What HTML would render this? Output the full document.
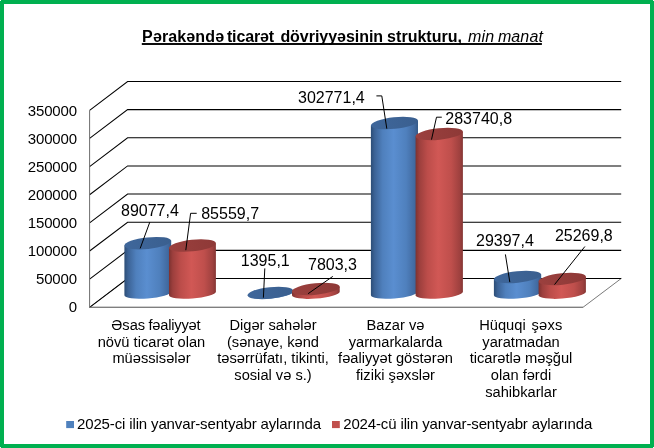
<!DOCTYPE html>
<html lang="az">
<head>
<meta charset="utf-8">
<title>Pərakəndə ticarət dövriyyəsinin strukturu</title>
<style>
html,body{margin:0;padding:0;background:#fff;}
body{width:654px;height:448px;overflow:hidden;position:relative;}
svg{position:absolute;left:0;top:0;display:block;}
text{font-family:"Liberation Sans",sans-serif;fill:#000;}
.s11{font-size:14.67px;}
.d11{font-size:15px;letter-spacing:-0.17px;}
.l11{font-size:15px;letter-spacing:-0.14px;}
.s12{font-size:16px;}
.ttl{font-size:16px;}
</style>
</head>
<body>
<svg width="654" height="448" viewBox="0 0 654 448">
<defs>
<linearGradient id="gb" x1="0" x2="1" y1="0" y2="0">
<stop offset="0" stop-color="#2c4d76"/><stop offset="0.08" stop-color="#3c6396"/><stop offset="0.25" stop-color="#4f80bd"/><stop offset="0.48" stop-color="#5a8ed0"/><stop offset="0.75" stop-color="#4f80bd"/><stop offset="0.93" stop-color="#41699f"/><stop offset="1" stop-color="#345a88"/>
</linearGradient>
<linearGradient id="gr" x1="0" x2="1" y1="0" y2="0">
<stop offset="0" stop-color="#7d3230"/><stop offset="0.08" stop-color="#9c3f3d"/><stop offset="0.25" stop-color="#bc4d4a"/><stop offset="0.48" stop-color="#d15855"/><stop offset="0.75" stop-color="#bf4f4c"/><stop offset="0.93" stop-color="#9f413f"/><stop offset="1" stop-color="#853634"/>
</linearGradient>
<linearGradient id="tb" x1="0" x2="1" y1="0" y2="0">
<stop offset="0" stop-color="#3f679b"/><stop offset="1" stop-color="#3a5f8f"/>
</linearGradient>
<linearGradient id="tr" x1="0" x2="1" y1="0" y2="0">
<stop offset="0" stop-color="#9b403e"/><stop offset="1" stop-color="#8e3937"/>
</linearGradient>
</defs>
<rect x="0" y="0" width="654" height="448" fill="#fff"/>
<polygon points="89.6,307.3 127.6,278.5 621.2,278.5 583.0,307.3" fill="#fff" stroke="#7a7a7a" stroke-width="1"/>
<polyline points="89.6,110.30 127.6,81.50 621.2,81.50" fill="none" stroke="#000" stroke-width="1.05" stroke-linejoin="miter"/>
<polyline points="89.6,138.44 127.6,109.64 621.2,109.64" fill="none" stroke="#000" stroke-width="1.05" stroke-linejoin="miter"/>
<polyline points="89.6,166.59 127.6,137.79 621.2,137.79" fill="none" stroke="#000" stroke-width="1.05" stroke-linejoin="miter"/>
<polyline points="89.6,194.73 127.6,165.93 621.2,165.93" fill="none" stroke="#000" stroke-width="1.05" stroke-linejoin="miter"/>
<polyline points="89.6,222.87 127.6,194.07 621.2,194.07" fill="none" stroke="#000" stroke-width="1.05" stroke-linejoin="miter"/>
<polyline points="89.6,251.01 127.6,222.21 621.2,222.21" fill="none" stroke="#000" stroke-width="1.05" stroke-linejoin="miter"/>
<polyline points="89.6,279.16 127.6,250.36 621.2,250.36" fill="none" stroke="#000" stroke-width="1.05" stroke-linejoin="miter"/>
<polyline points="89.6,307.30 127.6,278.50 621.2,278.50" fill="none" stroke="#000" stroke-width="1.05" stroke-linejoin="miter"/>
<line x1="89.6" y1="110.3" x2="89.6" y2="307.3" stroke="#6e6e6e" stroke-width="1"/>
<line x1="89.6" y1="307.3" x2="583.0" y2="307.3" stroke="#7a7a7a" stroke-width="1"/>
<path d="M124.40,245.48 L124.40,295.15 A23.47,5.10 -4.5 0 0 171.20,291.64 L171.20,240.86 Z" fill="url(#gb)"/>
<ellipse cx="147.80" cy="243.17" rx="23.52" ry="5.80" fill="url(#tb)" transform="rotate(-6.0 147.80 243.17)"/>
<path d="M169.00,247.89 L169.00,295.25 A23.52,5.10 -4.5 0 0 215.90,291.73 L215.90,243.26 Z" fill="url(#gr)"/>
<ellipse cx="192.45" cy="245.57" rx="23.57" ry="5.80" fill="url(#tr)" transform="rotate(-6.0 192.45 245.57)"/>
<path d="M247.50,295.19 L247.50,295.12 A22.92,5.10 -4.5 0 0 293.20,291.70 L293.20,290.70 Z" fill="url(#gb)"/>
<ellipse cx="270.35" cy="292.95" rx="22.97" ry="5.80" fill="url(#tb)" transform="rotate(-6.0 270.35 292.95)"/>
<path d="M292.00,291.35 L292.00,295.27 A23.92,5.10 -4.5 0 0 339.70,291.69 L339.70,286.63 Z" fill="url(#gr)"/>
<ellipse cx="315.85" cy="288.99" rx="23.97" ry="5.80" fill="url(#tr)" transform="rotate(-6.0 315.85 288.99)"/>
<path d="M370.90,125.40 L370.90,295.16 A23.62,5.10 -4.5 0 0 418.00,291.62 L418.00,120.75 Z" fill="url(#gb)"/>
<ellipse cx="394.45" cy="123.08" rx="23.67" ry="5.80" fill="url(#tb)" transform="rotate(-6.0 394.45 123.08)"/>
<path d="M415.60,136.32 L415.60,295.26 A23.72,5.10 -4.5 0 0 462.90,291.71 L462.90,131.64 Z" fill="url(#gr)"/>
<ellipse cx="439.25" cy="133.98" rx="23.77" ry="5.80" fill="url(#tr)" transform="rotate(-6.0 439.25 133.98)"/>
<path d="M493.90,279.32 L493.90,295.16 A23.72,5.10 -4.5 0 0 541.20,291.61 L541.20,274.64 Z" fill="url(#gb)"/>
<ellipse cx="517.55" cy="276.98" rx="23.77" ry="5.80" fill="url(#tb)" transform="rotate(-6.0 517.55 276.98)"/>
<path d="M538.60,281.32 L538.60,295.26 A23.72,5.10 -4.5 0 0 585.90,291.71 L585.90,276.64 Z" fill="url(#gr)"/>
<ellipse cx="562.25" cy="278.98" rx="23.77" ry="5.80" fill="url(#tr)" transform="rotate(-6.0 562.25 278.98)"/>
<polyline points="149.8,222.1 140.2,248.4" fill="none" stroke="#000" stroke-width="1"/>
<polyline points="196.7,213.3 190.6,213.3 185.8,250.2" fill="none" stroke="#000" stroke-width="1"/>
<polyline points="264.8,268.4 263.4,297.7" fill="none" stroke="#000" stroke-width="1"/>
<polyline points="332.8,276.4 308.1,293.7" fill="none" stroke="#000" stroke-width="1"/>
<polyline points="376.4,95.9 381.8,95.9 386.8,128.7" fill="none" stroke="#000" stroke-width="1"/>
<polyline points="441.8,117.2 436.5,117.2 431.5,139.6" fill="none" stroke="#000" stroke-width="1"/>
<polyline points="505.4,254.4 509.8,282.1" fill="none" stroke="#000" stroke-width="1"/>
<polyline points="584.9,246.5 554.5,284.6" fill="none" stroke="#000" stroke-width="1"/>
<text x="76.9" y="116" text-anchor="end" class="d11">350000</text>
<text x="76.9" y="144" text-anchor="end" class="d11">300000</text>
<text x="76.9" y="172" text-anchor="end" class="d11">250000</text>
<text x="76.9" y="200" text-anchor="end" class="d11">200000</text>
<text x="76.9" y="228" text-anchor="end" class="d11">150000</text>
<text x="76.9" y="256" text-anchor="end" class="d11">100000</text>
<text x="76.9" y="284" text-anchor="end" class="d11">50000</text>
<text x="76.9" y="312" text-anchor="end" class="d11">0</text>
<text x="121.0" y="215.6" class="s12">89077,4</text>
<text x="201.2" y="219" class="s12">85559,7</text>
<text x="240.8" y="266.0" class="s12">1395,1</text>
<text x="308.0" y="270" class="s12">7803,3</text>
<text x="298.0" y="102.7" class="s12">302771,4</text>
<text x="445.3" y="123.8" class="s12">283740,8</text>
<text x="476.0" y="246.0" class="s12">29397,4</text>
<text x="554.9" y="240.5" class="s12">25269,8</text>
<text x="151.5" y="347" text-anchor="middle" class="s11">növü ticarət olan</text>
<text x="151.5" y="363" text-anchor="middle" class="s11">müəssisələr</text>
<text x="273" y="330" text-anchor="middle" class="s11">Digər sahələr</text>
<text x="273" y="347" text-anchor="middle" class="s11">(sənaye, kənd</text>
<text x="273" y="363" text-anchor="middle" class="s11">təsərrüfatı, tikinti,</text>
<text x="273" y="380" text-anchor="middle" class="s11">sosial və s.)</text>
<text x="395.5" y="330" text-anchor="middle" class="s11">Bazar və</text>
<text x="395.5" y="347" text-anchor="middle" class="s11">yarmarkalarda</text>
<text x="395.5" y="363" text-anchor="middle" class="s11">fəaliyyət göstərən</text>
<text x="395.5" y="380" text-anchor="middle" class="s11">fiziki şəxslər</text>
<text x="521" y="347" text-anchor="middle" class="s11">yaratmadan</text>
<text x="521" y="363" text-anchor="middle" class="s11">ticarətlə məşğul</text>
<text x="521" y="380" text-anchor="middle" class="s11">olan fərdi</text>
<text x="521" y="397" text-anchor="middle" class="s11">sahibkarlar</text>
<text x="111.3" y="330" class="s11">Əsas</text>
<text x="148.4" y="330" class="s11" letter-spacing="-0.19">fəaliyyət</text>
<text x="479.2" y="330" class="s11">Hüquqi</text>
<text x="531.6" y="330" class="s11" letter-spacing="0.2">şəxs</text>
<text x="142.1" y="42" class="ttl" font-weight="bold" letter-spacing="0.13">Pərakəndə</text>
<text x="226.9" y="42" class="ttl" font-weight="bold" letter-spacing="-0.13">ticarət</text>
<text x="280.4" y="42" class="ttl" font-weight="bold" letter-spacing="-0.04">dövriyyəsinin</text>
<text x="387.1" y="42" class="ttl" font-weight="bold" letter-spacing="0.03">strukturu</text>
<text x="457.4" y="42" class="ttl" font-weight="bold">,</text>
<text x="467.9" y="42" class="ttl" font-style="italic" letter-spacing="0.2">min</text>
<text x="497.9" y="42" class="ttl" font-style="italic" letter-spacing="0.12">manat</text>
<rect x="141.8" y="43.05" width="400.1" height="1.9" fill="#000"/>
<rect x="66.2" y="421" width="7.8" height="7.1" fill="#4f81bd"/>
<text x="77" y="429" class="l11">2025-ci ilin yanvar-sentyabr aylarında</text>
<rect x="332" y="421" width="7.8" height="7.1" fill="#c0504d"/>
<text x="343.2" y="429" class="l11">2024-cü ilin yanvar-sentyabr aylarında</text>
<rect x="2" y="2" width="650" height="444" fill="none" stroke="#00b050" stroke-width="4"/>
<rect x="0" y="0" width="1" height="1" fill="#eefaf3"/><rect x="653" y="0" width="1" height="1" fill="#eefaf3"/><rect x="0" y="447" width="1" height="1" fill="#eefaf3"/><rect x="653" y="447" width="1" height="1" fill="#eefaf3"/>
</svg>
</body>
</html>
